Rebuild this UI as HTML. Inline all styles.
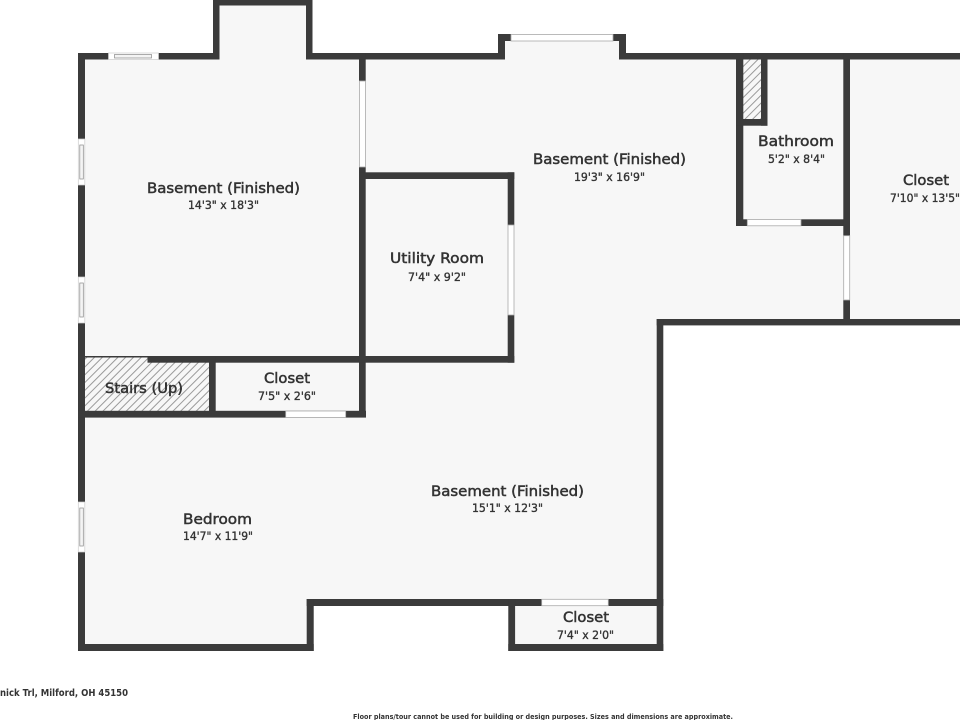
<!DOCTYPE html>
<html>
<head>
<meta charset="utf-8">
<style>
html,body{margin:0;padding:0;background:#fff;width:960px;height:720px;overflow:hidden}
svg{display:block}
.l{font:14.5px "DejaVu Sans",sans-serif;fill:#333;stroke:#333;stroke-width:.5}
.d{font:11.5px "DejaVu Sans",sans-serif;fill:#333;stroke:#333;stroke-width:.35}
.f{font:bold 9.5px "DejaVu Sans",sans-serif;fill:#333}
.s{font:bold 7px "DejaVu Sans",sans-serif;fill:#333}
</style>
</head>
<body>
<svg width="960" height="720" viewBox="0 0 960 720" xmlns="http://www.w3.org/2000/svg">
<defs>
<pattern id="h" width="5.5" height="5.5" patternUnits="userSpaceOnUse" patternTransform="rotate(45)">
<rect width="5.5" height="5.5" fill="#f7f7f7"/>
<rect x="0" y="0" width="1" height="5.5" fill="#9a9a9a"/>
</pattern>
</defs>
<rect width="960" height="720" fill="#fff"/>
<path fill="#f7f7f7" d="M78 53H213V0H312V53H498V34H626V53H960V325H663V651H508V606H314V651H78Z"/>

<!-- hatched areas -->
<rect x="85" y="357" width="124" height="54" fill="url(#h)"/>
<rect x="743" y="59" width="18" height="60" fill="url(#h)"/>

<g fill="#3b3b3b">
<!-- outer left / top -->
<rect x="78" y="53" width="7" height="598"/>
<rect x="78" y="53" width="141" height="6.5"/>
<rect x="213" y="0" width="6.5" height="59.5"/>
<rect x="213" y="0" width="99" height="5.5"/>
<rect x="306" y="0" width="6.5" height="59.5"/>
<rect x="306" y="53" width="199" height="6.5"/>
<rect x="498" y="34" width="7" height="25.5"/>
<rect x="498" y="34" width="13" height="7"/>
<rect x="613" y="34" width="13" height="7"/>
<rect x="619" y="34" width="7" height="25.5"/>
<rect x="619" y="53" width="341" height="6.5"/>
<!-- inner vertical -->
<rect x="359" y="53" width="6.7" height="28"/>
<rect x="359" y="167" width="6.7" height="250.5"/>
<!-- utility -->
<rect x="359" y="172.3" width="155.3" height="6.7"/>
<rect x="507.7" y="172.3" width="6.6" height="53"/>
<rect x="507.7" y="315" width="6.6" height="47.7"/>
<rect x="147.5" y="356" width="366.8" height="6.7"/>
<rect x="85" y="356" width="62.5" height="1.5"/>
<!-- stairs / closet -->
<rect x="209" y="357" width="6.7" height="60"/>
<rect x="78" y="410.8" width="288" height="6.8"/>
<!-- bathroom -->
<rect x="736" y="53" width="7.3" height="173"/>
<rect x="761" y="53" width="6.5" height="72.7"/>
<rect x="736" y="119" width="31.5" height="6.7"/>
<rect x="736" y="219.3" width="11.3" height="6.7"/>
<rect x="801" y="219.3" width="49" height="6.7"/>
<rect x="843.3" y="53" width="6.7" height="182.7"/>
<rect x="843.3" y="300" width="6.7" height="25"/>
<!-- lower right -->
<rect x="656.7" y="319" width="303.3" height="6.4"/>
<rect x="656.7" y="319" width="6.6" height="332"/>
<!-- bottom -->
<rect x="306.7" y="599" width="235" height="7"/>
<rect x="608.3" y="599" width="55" height="7"/>
<rect x="306.7" y="599" width="7" height="52"/>
<rect x="78" y="644" width="235.7" height="7"/>
<rect x="508.3" y="599" width="6.8" height="52"/>
<rect x="508.3" y="644" width="155" height="7"/>
</g>

<!-- openings -->
<g fill="#fff" stroke="#aaa" stroke-width=".8">
<rect x="511" y="34.5" width="102" height="6.5"/>
<rect x="359.5" y="81" width="6" height="86"/>
<rect x="508" y="225" width="6" height="90"/>
<rect x="747.3" y="219.6" width="53.7" height="6.2"/>
<rect x="843.7" y="235.7" width="6" height="64.3"/>
<rect x="285.7" y="411" width="60" height="6.5"/>
<rect x="541.7" y="599.3" width="66.6" height="6.4"/>
</g>
<!-- windows -->
<g fill="#fff" stroke="#888" stroke-width=".7">
<rect x="108.5" y="53" width="50" height="6.5" stroke="#ccc"/>
<rect x="114.5" y="54.5" width="37" height="3.5" fill="#f4f4f4"/>
<rect x="78.3" y="139" width="6.5" height="46" stroke="#ccc"/>
<rect x="79.8" y="145" width="3.5" height="34" fill="#f4f4f4"/>
<rect x="78.3" y="277" width="6.5" height="46" stroke="#ccc"/>
<rect x="79.8" y="283" width="3.5" height="34" fill="#f4f4f4"/>
<rect x="78.3" y="502" width="6.5" height="50" stroke="#ccc"/>
<rect x="79.8" y="508" width="3.5" height="38" fill="#f4f4f4"/>
</g>

<!-- labels -->
<text class="l" x="147" y="193" textLength="153" lengthAdjust="spacingAndGlyphs">Basement (Finished)</text>
<text class="d" x="188" y="209" textLength="71" lengthAdjust="spacingAndGlyphs">14'3" x 18'3"</text>
<text class="l" x="533" y="164" textLength="153" lengthAdjust="spacingAndGlyphs">Basement (Finished)</text>
<text class="d" x="574" y="181" textLength="71" lengthAdjust="spacingAndGlyphs">19'3" x 16'9"</text>
<text class="l" x="390" y="263" textLength="94" lengthAdjust="spacingAndGlyphs">Utility Room</text>
<text class="d" x="408" y="281" textLength="58" lengthAdjust="spacingAndGlyphs">7'4" x 9'2"</text>
<text class="l" x="758" y="146" textLength="76" lengthAdjust="spacingAndGlyphs">Bathroom</text>
<text class="d" x="768" y="163" textLength="57" lengthAdjust="spacingAndGlyphs">5'2" x 8'4"</text>
<text class="l" x="903" y="185" textLength="46" lengthAdjust="spacingAndGlyphs">Closet</text>
<text class="d" x="890" y="202" textLength="70" lengthAdjust="spacingAndGlyphs">7'10" x 13'5"</text>
<text class="l" x="264" y="383" textLength="46" lengthAdjust="spacingAndGlyphs">Closet</text>
<text class="d" x="258" y="400" textLength="58" lengthAdjust="spacingAndGlyphs">7'5" x 2'6"</text>
<text class="l" x="105" y="393" textLength="78" lengthAdjust="spacingAndGlyphs">Stairs (Up)</text>
<text class="l" x="183" y="524" textLength="69" lengthAdjust="spacingAndGlyphs">Bedroom</text>
<text class="d" x="183" y="540" textLength="70" lengthAdjust="spacingAndGlyphs">14'7" x 11'9"</text>
<text class="l" x="431" y="496" textLength="153" lengthAdjust="spacingAndGlyphs">Basement (Finished)</text>
<text class="d" x="472" y="512" textLength="71" lengthAdjust="spacingAndGlyphs">15'1" x 12'3"</text>
<text class="l" x="563" y="622" textLength="46" lengthAdjust="spacingAndGlyphs">Closet</text>
<text class="d" x="557" y="639" textLength="57" lengthAdjust="spacingAndGlyphs">7'4" x 2'0"</text>

<!-- footer -->
<text class="f" x="0" y="696" textLength="128" lengthAdjust="spacingAndGlyphs">nick Trl, Milford, OH 45150</text>
<text class="s" x="353" y="719" textLength="380" lengthAdjust="spacingAndGlyphs">Floor plans/tour cannot be used for building or design purposes. Sizes and dimensions are approximate.</text>
</svg>
</body>
</html>
